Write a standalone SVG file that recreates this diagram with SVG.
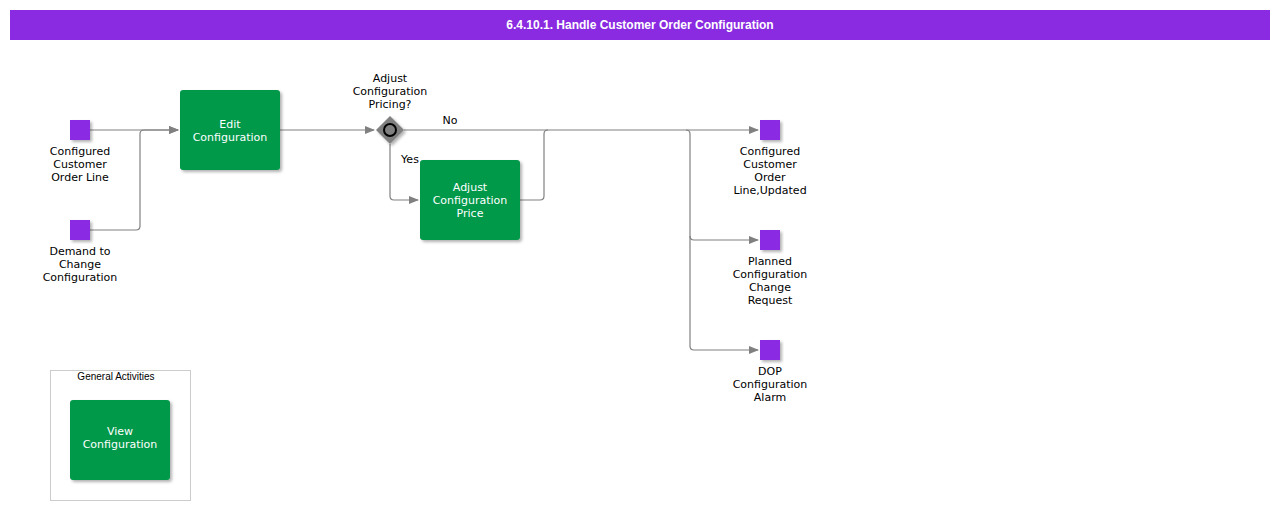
<svg xmlns="http://www.w3.org/2000/svg" width="1280" height="510" viewBox="0 0 1280 510">
<defs>
<marker id="arr" markerWidth="10" markerHeight="8" refX="9" refY="4" orient="auto" markerUnits="userSpaceOnUse"><path d="M0,0 L10,4 L0,8 z" fill="#808080"/></marker>
<filter id="sh" x="-10%" y="-10%" width="130%" height="130%"><feDropShadow dx="2" dy="2" stdDeviation="1.5" flood-color="#000" flood-opacity="0.3"/></filter>
</defs>
<style>
text{font-family:"DejaVu Sans",sans-serif;font-size:11px;text-anchor:middle;fill:#000}
.t{fill:#fff}
.task{fill:#00984a;filter:url(#sh)}
.ev{fill:#8a2be2;filter:url(#sh)}
.c{fill:none;stroke:#808080;stroke-width:1.2}
</style>
<rect width="1280" height="510" fill="#fff"/>
<g id="title"><rect x="10" y="10" width="1260" height="30" fill="#8a2be2"/><text x="640" y="29" class="t" style="font-family:'Liberation Sans',sans-serif;font-weight:bold;font-size:12px">6.4.10.1. Handle Customer Order Configuration</text></g>
<g id="connectors">
<path class="c" d="M90,130 H178" marker-end="url(#arr)"/>
<path class="c" d="M90,230 H136 Q140,230 140,226 V134 Q140,130 144,130 H178" marker-end="url(#arr)"/>
<path class="c" d="M280,130 H374" marker-end="url(#arr)"/>
<path class="c" d="M404,130 H758" marker-end="url(#arr)"/>
<path class="c" d="M390,144 V196 Q390,200 394,200 H418" marker-end="url(#arr)"/>
<path class="c" d="M520,200 H540 Q544,200 544,196 V134 Q544,130 548,130"/>
<path class="c" d="M686,130 Q690,130 690,134 V236 Q690,240 694,240 H758" marker-end="url(#arr)"/>
<path class="c" d="M690,236 V346 Q690,350 694,350 H758" marker-end="url(#arr)"/>
<text x="450" y="124">No</text>
<text x="410" y="163">Yes</text>
</g>
<g id="in1"><rect class="ev" x="70" y="120" width="20" height="20"/><text x="80" y="155">Configured</text><text x="80" y="168">Customer</text><text x="80" y="181">Order Line</text></g>
<g id="in2"><rect class="ev" x="70" y="220" width="20" height="20"/><text x="80" y="255">Demand to</text><text x="80" y="268">Change</text><text x="80" y="281">Configuration</text></g>
<g id="edit"><rect class="task" x="180" y="90" width="100" height="80" rx="3"/><text class="t" x="230" y="128">Edit</text><text class="t" x="230" y="141">Configuration</text></g>
<g id="gw"><path d="M390,116 L404,130 L390,144 L376,130 z" fill="#808080" filter="url(#sh)"/><circle cx="390" cy="130" r="6" fill="#808080" stroke="#000" stroke-width="2"/><text x="390" y="82">Adjust</text><text x="390" y="95">Configuration</text><text x="390" y="108">Pricing?</text></g>
<g id="adj"><rect class="task" x="420" y="160" width="100" height="80" rx="3"/><text class="t" x="470" y="191">Adjust</text><text class="t" x="470" y="204">Configuration</text><text class="t" x="470" y="217">Price</text></g>
<g id="out1"><rect class="ev" x="760" y="120" width="20" height="20"/><text x="770" y="155">Configured</text><text x="770" y="168">Customer</text><text x="770" y="181">Order</text><text x="770" y="194">Line,Updated</text></g>
<g id="out2"><rect class="ev" x="760" y="230" width="20" height="20"/><text x="770" y="265">Planned</text><text x="770" y="278">Configuration</text><text x="770" y="291">Change</text><text x="770" y="304">Request</text></g>
<g id="out3"><rect class="ev" x="760" y="340" width="20" height="20"/><text x="770" y="375">DOP</text><text x="770" y="388">Configuration</text><text x="770" y="401">Alarm</text></g>
<g id="general"><rect x="50.5" y="370.5" width="140" height="130" fill="none" stroke="#ccc"/><text x="116" y="380" style="font-family:'Liberation Sans',sans-serif;font-size:10px">General Activities</text></g>
<g id="view"><rect class="task" x="70" y="400" width="100" height="80" rx="3"/><text class="t" x="120" y="435">View</text><text class="t" x="120" y="448">Configuration</text></g>
</svg>
